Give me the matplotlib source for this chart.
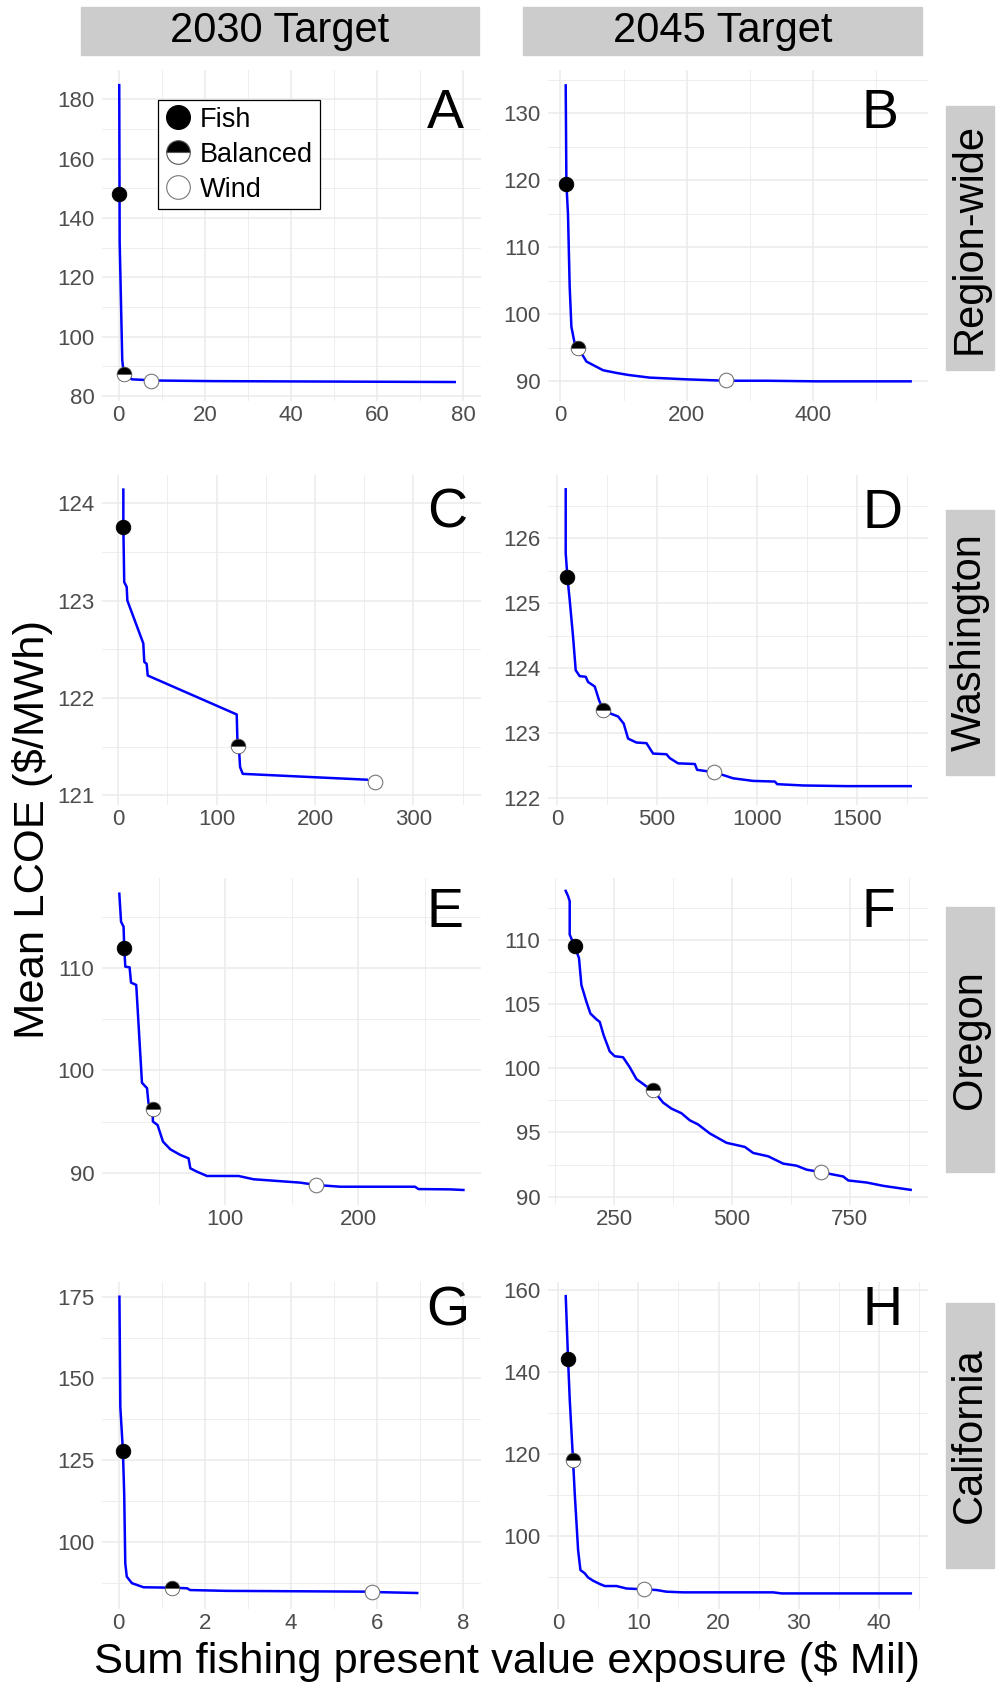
import matplotlib.pyplot as plt
from matplotlib.lines import Line2D
from matplotlib.patches import Rectangle
from matplotlib.ticker import MultipleLocator

plt.rcParams['font.family'] = ['Liberation Sans', 'DejaVu Sans']

# --- data ---------------------------------------------------------------
col_titles = ['2030 Target', '2045 Target']
row_titles = ['Region-wide', 'Washington', 'Oregon', 'California']
letters = ['A', 'B', 'C', 'D', 'E', 'F', 'G', 'H']

# frontier curves (x = fishing exposure $ Mil, y = mean LCOE $/MWh)
a_x = [0.15, 0.25, 0.85, 1.2, 3.1, 9, 22, 78]
a_y = [184.8, 132, 92, 87.5, 85.6, 85.2, 85.0, 84.7]
b_x = [8.4, 9.5, 12, 14.7, 17.4, 22.6, 27.9, 41.2, 67.5, 88.6, 107, 141, 199.5, 261.7, 326, 405, 554]
b_y = [134.2, 119.5, 115.0, 104.1, 98.1, 95.6, 95.0, 92.9, 91.6, 91.2, 90.9, 90.5, 90.24, 90.03, 90.03, 89.94, 89.94]
c_x = [5.1, 5.1, 6, 8.5, 9.2, 25.4, 26.4, 28.8, 29.9, 120.4, 121, 121.4, 123, 123.8, 126.5, 252.6]
c_y = [124.14, 123.76, 123.19, 123.14, 123.0, 122.56, 122.37, 122.35, 122.23, 121.83, 121.6, 121.51,
       121.43, 121.29, 121.22, 121.16]
d_x = [43.6, 43.6, 52, 63.6, 80.3, 93.7, 113.7, 143.8, 155.5, 189, 210.6, 230.6, 264, 305.7, 334, 355.8,
       397.6, 447.9, 481, 548, 564.6, 606, 690, 701.4, 748.5, 786.6, 831.7, 881.8, 982, 1090.7, 1102,
       1232.5, 1450, 1770.5]
d_y = [126.75, 125.77, 125.41, 125.05, 124.49, 123.97, 123.88, 123.87, 123.79, 123.72, 123.51, 123.36,
       123.31, 123.26, 123.15, 122.92, 122.86, 122.85, 122.69, 122.68, 122.62, 122.54, 122.53, 122.44,
       122.42, 122.40, 122.36, 122.31, 122.27, 122.26, 122.22, 122.20, 122.19, 122.19]
e_x = [20.5, 21.8, 23.7, 24.2, 25, 28.2, 29.3, 33.2, 37.5, 41.3, 42.4, 45.5, 45.7, 49.2, 53.3, 58.8,
       66.3, 72.5, 73.8, 78.8, 86.3, 110, 121.2, 156.3, 168.3, 186.3, 242.5, 245, 268.8, 278.8]
e_y = [117.3, 114.56, 114.07, 111.96, 110.16, 110.1, 108.6, 108.37, 98.8, 98.26, 96.79, 96.2, 95.0,
       94.66, 93.03, 92.28, 91.73, 91.4, 90.42, 90.09, 89.67, 89.67, 89.35, 89.02, 88.79, 88.62, 88.62,
       88.39, 88.36, 88.3]
f_x = [147.5, 152.4, 156, 156, 166.6, 175.7, 180.8, 191.4, 199.9, 212.7, 219.7, 228.1, 240.9, 251.5,
       269.1, 283.3, 297.5, 318.7, 332.8, 354, 371.8, 393, 410.6, 428.2, 453, 488.5, 527.3, 545, 576.8,
       608.6, 637, 658.2, 688, 735.9, 746.5, 785.5, 820.8, 878.9]
f_y = [113.8, 113.4, 113.0, 110.4, 109.48, 108.56, 106.47, 105.17, 104.25, 103.8, 103.6, 102.55, 101.3,
       100.93, 100.85, 100.07, 99.15, 98.58, 98.29, 97.32, 96.85, 96.49, 95.94, 95.62, 94.92, 94.19,
       93.87, 93.4, 93.14, 92.57, 92.41, 92.1, 91.91, 91.57, 91.26, 91.1, 90.84, 90.53]
g_x = [0.02, 0.04, 0.10, 0.13, 0.155, 0.19, 0.31, 0.58, 1.24, 1.59, 1.66, 2.51, 5.89, 6.07, 6.93]
g_y = [175, 141.3, 127.86, 114.8, 93.4, 89.3, 87.3, 86.05, 85.93, 85.74, 85.2, 84.95, 84.7, 84.55, 84.3]
h_x = [0.96, 1.25, 1.46, 1.87, 2.08, 2.5, 2.79, 3.33, 3.74, 4.37, 5.2, 5.83, 7.28, 8.53, 10.69, 12.27,
       13.52, 15.6, 26.8, 27.86, 43.96]
h_y = [158.5, 143.1, 133.2, 118.5, 110.4, 96.6, 91.7, 90.9, 89.9, 89.1, 88.3, 87.8, 87.8, 87.2, 87.0,
       86.83, 86.42, 86.26, 86.26, 86.0, 86.0]

# highlighted solutions per panel A..H: (x, y)
fish_pts = [(0.2, 148.1), (9.5, 119.5), (5.1, 123.76), (52, 125.41),
            (24.2, 111.96), (166.6, 109.48), (0.10, 127.86), (1.25, 143.1)]
balanced_pts = [(1.2, 87.5), (27.9, 95.0), (121.4, 121.51), (230.6, 123.36),
                (45.5, 96.2), (332.8, 98.29), (1.24, 85.93), (1.87, 118.5)]
wind_pts = [(7.6, 85.1), (261.7, 90.1), (261, 121.14), (786.6, 122.40),
            (168.3, 88.79), (688, 91.91), (5.89, 84.6), (10.69, 87.0)]

curves = [(a_x, a_y), (b_x, b_y), (c_x, c_y), (d_x, d_y),
          (e_x, e_y), (f_x, f_y), (g_x, g_y), (h_x, h_y)]

# --- layout (pixels of the 1005x1686 figure) -----------------------------
W, H = 1005, 1686
fig = plt.figure(figsize=(W / 100, H / 100), dpi=100)


def fbox(l, t, r, b):
    return [l / W, 1 - b / H, (r - l) / W, (b - t) / H]


col_lr = [(102, 481), (548, 928)]
row_tb = [(70, 401), (475, 805), (878, 1205), (1282, 1609)]

# limits, major step, minor step for x and y
limits = [
    ((-3.85, 84.1), 20, 10, (78.3, 189.9), 20, 10),
    ((-19.6, 581.5), 200, 100, (87.0, 136.5), 10, 5),
    ((-16.6, 368.8), 100, 50, (120.90, 124.29), 1, 0.5),
    ((-45, 1857), 500, 250, (121.90, 126.97), 1, 0.5),
    ((7.5, 292), 100, 50, (86.83, 118.84), 10, 5),
    ((110, 915.6), 250, 125, (89.35, 114.8), 5, 2.5),
    ((-0.385, 8.41), 2, 1, (79.4, 179.5), 25, 12.5),
    ((-1.25, 46.1), 10, 5, (82.2, 161.95), 20, 10),
]
letter_pos = [(445, 114), (880, 114), (447, 514), (882, 514),
              (445, 913), (878, 913), (448, 1311), (882, 1311)]

grid_c = '#EBEBEB'
ms = 10.5

axes = []
for i in range(8):
    r, c = divmod(i, 2)
    l, rr = col_lr[c]
    t, b = row_tb[r]
    ax = fig.add_axes(fbox(l, t, rr, b))
    axes.append(ax)
    xl, xmaj, xmin, yl, ymaj, ymin = limits[i]
    ax.set_xlim(*xl)
    ax.set_ylim(*yl)
    ax.xaxis.set_major_locator(MultipleLocator(xmaj))
    ax.xaxis.set_minor_locator(MultipleLocator(xmin))
    ax.yaxis.set_major_locator(MultipleLocator(ymaj))
    ax.yaxis.set_minor_locator(MultipleLocator(ymin))
    ax.grid(which='major', color=grid_c, lw=1.1)
    ax.grid(which='minor', color=grid_c, lw=0.6)
    ax.set_axisbelow(True)
    for s in ax.spines.values():
        s.set_visible(False)
    ax.tick_params(which='both', length=0, labelsize=16, labelcolor='#4D4D4D')
    ax.tick_params(axis='x', pad=3)
    ax.tick_params(axis='y', pad=5.5)

    x, y = curves[i]
    ax.plot(x, y, color='#0000FF', lw=1.8, zorder=3)
    fx, fy = fish_pts[i]
    bx, by = balanced_pts[i]
    wx, wy = wind_pts[i]
    ax.plot([fx], [fy], 'o', ms=ms, mfc='black', mec='black', mew=0.6, zorder=4, clip_on=False)
    ax.plot([bx], [by], marker='o', ms=ms, fillstyle='top', mfc='black', markerfacecoloralt='white',
            mec='#555555', mew=0.6, ls='none', zorder=4, clip_on=False)
    ax.plot([wx], [wy], 'o', ms=ms, mfc='white', mec='#777777', mew=0.8, zorder=4, clip_on=False)

    lx, ly = letter_pos[i]
    fig.text(lx / W, 1 - ly / H, letters[i], fontsize=40, ha='center', va='center')

# legend in panel A
handles = [
    Line2D([], [], marker='o', ls='none', ms=17, mfc='black', mec='black'),
    Line2D([], [], marker='o', ls='none', ms=17, fillstyle='top', mfc='black',
           markerfacecoloralt='white', mec='#555555', mew=0.8),
    Line2D([], [], marker='o', ls='none', ms=17, mfc='white', mec='#777777', mew=0.8),
]
leg = axes[0].legend(handles, ['Fish', 'Balanced', 'Wind'], loc='upper left',
                     bbox_to_anchor=(157.7 / W, 1 - 100 / H), bbox_transform=fig.transFigure,
                     fontsize=19.5, frameon=True, fancybox=False, edgecolor='black',
                     framealpha=1, borderpad=0.25, labelspacing=0.33, handlelength=1.0,
                     handletextpad=0.3, borderaxespad=0)
leg.get_frame().set_linewidth(0.9)

# column headers
head_x = [(80.7, 479.3), (523.3, 922)]
for (l, r), txt in zip(head_x, col_titles):
    fig.patches.append(Rectangle((l / W, 1 - 55 / H), (r - l) / W, 48.3 / H,
                                 transform=fig.transFigure, color='#CCCCCC', zorder=0))
    fig.text((l + r) / 2 / W, 1 - 31 / H, txt, fontsize=30, ha='center', va='center')

# row strips
strip_tb = [(106, 370), (510, 775), (907, 1172), (1303, 1568)]
for (t, b), txt in zip(strip_tb, row_titles):
    fig.patches.append(Rectangle((945.7 / W, 1 - b / H), 48.6 / W, (b - t) / H,
                                 transform=fig.transFigure, color='#CCCCCC', zorder=0))
    fig.text(970 / W, 1 - (t + b) / 2 / H, txt, fontsize=30, rotation=90,
             ha='center', va='center')

fig.text(507 / W, 1 - 1661 / H, 'Sum fishing present value exposure ($ Mil)',
         fontsize=31.3, ha='center', va='center')
fig.text(33 / W, 1 - 829 / H, 'Mean LCOE ($/MWh)', fontsize=31.3, rotation=90,
         ha='center', va='center')

fig.savefig('out.png', dpi=100)
